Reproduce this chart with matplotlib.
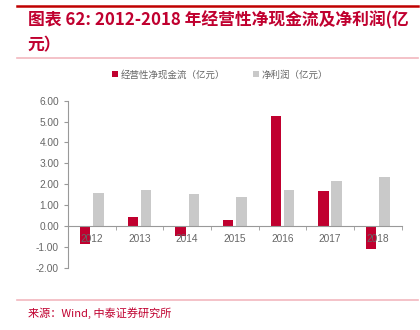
import matplotlib.pyplot as plt
import numpy as np
from matplotlib.lines import Line2D

plt.rcParams["font.family"] = ["Noto Sans CJK SC", "DejaVu Sans"]

years = ["2012", "2013", "2014", "2015", "2016", "2017", "2018"]
cashflow = [-0.86, 0.43, -0.46, 0.30, 5.25, 1.69, -1.08]   # 经营性净现金流
profit = [1.58, 1.72, 1.55, 1.40, 1.72, 2.15, 2.33]        # 净利润

RED = "#C0002F"
GREY = "#C9C9C9"
TXT = "#666666"

fig = plt.figure(figsize=(4.2, 3.3), dpi=100)
ax = fig.add_axes([0.162, 0.188, 0.794, 0.507])

x = np.arange(len(years))
w = 0.22
ax.bar(x - 0.14, cashflow, w, color=RED, label="经营性净现金流（亿元）", zorder=1)
ax.bar(x + 0.14, profit, w, color=GREY, label="净利润（亿元）", zorder=1)

ax.set_xlim(-0.5, len(years) - 0.5)
ax.set_ylim(-2, 6)
ax.set_yticks(np.arange(-2, 7, 1))
ax.set_yticklabels([f"{v:.2f}" for v in np.arange(-2, 7, 1)])

# x axis sits on zero
ax.spines["bottom"].set_position(("data", 0))
for s in ["top", "right"]:
    ax.spines[s].set_visible(False)
ax.spines["bottom"].set_color("#999999")
ax.spines["left"].set_color("#999999")
ax.spines["bottom"].set_linewidth(0.8)
ax.spines["left"].set_linewidth(0.8)

ax.set_xticks(x)
ax.set_xticklabels(years)
ax.set_xticks(np.arange(-0.5, len(years)), minor=True)
ax.tick_params(axis="x", which="major", length=0, pad=6, labelsize=7.3, labelcolor=TXT)
ax.tick_params(axis="x", which="minor", length=3, color="#999999", direction="out")
ax.tick_params(axis="y", length=3, color="#999999", labelsize=7.3, labelcolor=TXT)
for lbl in ax.get_xticklabels() + ax.get_yticklabels():
    lbl.set_family(["Liberation Sans", "DejaVu Sans"])

leg = ax.legend(loc="center", bbox_to_anchor=(0.456, 1.154), ncol=2,
                frameon=False, fontsize=6.8, handlelength=0.6, handleheight=0.6,
                handletextpad=0.3, columnspacing=3.0, labelcolor=TXT,
                borderaxespad=0, borderpad=0)

# header / footer decorations
fig.add_artist(Line2D([17 / 420, 418 / 420], [1 - 5.7 / 330] * 2, color="#C00000", lw=1.8))
fig.add_artist(Line2D([17 / 420, 418 / 420], [1 - 57.7 / 330] * 2, color="#F2B8BF", lw=1.2))
fig.add_artist(Line2D([17 / 420, 418 / 420], [1 - 300 / 330] * 2, color="#F2B8BF", lw=1.2))

fig.text(28 / 420, 1 - 20.7 / 330, "图表 62: 2012-2018 年经营性净现金流及净利润(亿",
         color=RED, fontsize=12.1, fontweight="bold", fontstyle="italic", va="center")
fig.text(28 / 420, 1 - 45 / 330, "元）", color=RED, fontsize=12.1,
         fontweight="bold", fontstyle="italic", va="center")
fig.text(28 / 420, 1 - 313 / 330, "来源：Wind, 中泰证券研究所", color=RED,
         fontsize=8, va="center")

fig.savefig("out.png", dpi=100)
